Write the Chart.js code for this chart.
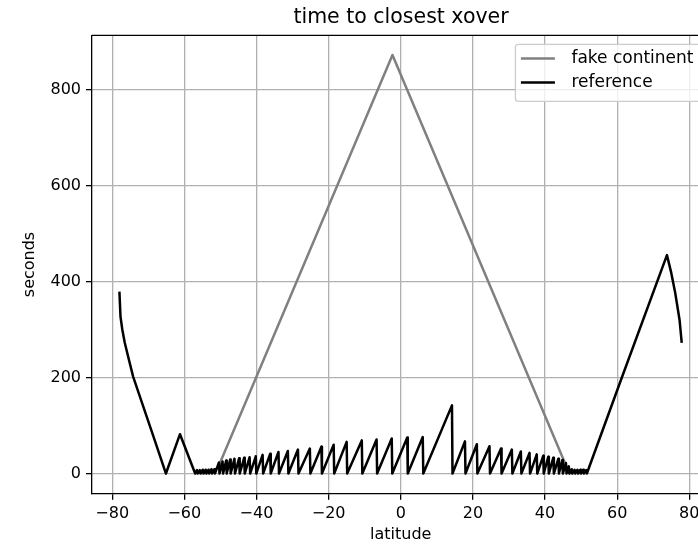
<!DOCTYPE html>
<html>
<head>
<meta charset="utf-8">
<title>time to closest xover</title>
<script src="https://cdn.jsdelivr.net/npm/chart.js@4.4.1/dist/chart.umd.min.js"></script>
<style>
  html, body { margin: 0; padding: 0; background: #fff; overflow: hidden; }
  canvas { display: block; }
</style>
</head>
<body>
<canvas id="xoverChart" width="802" height="546"></canvas>
<script>
// fake continent: straight ramp up to the peak and back down
const fakeLat = [-50.8, -2.3, 46.2];
const fakeSec = [10, 872, 10];

// reference track, vertex by vertex
const refLat = [
  -78.0, -77.7, -77.2, -76.5, -75.4, -74.2, -71.4, -68.6, -65.1,
  -61.2, -57.0,
  -56.5, -56.3, -55.7, -55.5, -54.9, -54.7, -54.1, -53.9, -53.3, -53.1, -52.5, -52.3, -51.7, -51.5,
  -50.4, -50.25, -49.4, -49.25, -48.4, -48.25, -47.3, -47.15, -46.1, -45.95,
  -44.8, -44.65, -43.4, -43.25, -41.9, -41.75, -40.2, -40.05, -38.3, -38.15,
  -36.2, -36.05, -33.9, -33.75, -31.3, -31.15, -28.5, -28.35, -25.2, -25.05,
  -22.0, -21.85, -18.6, -18.45, -15.0, -14.85, -10.8, -10.65, -6.7, -6.55,
  -2.5, -2.35, 1.8, 1.95, 6.1, 6.25, 14.2, 14.35,
  17.8, 17.95, 21.1, 21.25, 24.6, 24.75, 27.8, 27.95, 30.8, 30.95,
  33.3, 33.45, 35.7, 35.85, 37.7, 37.85, 39.5, 39.65, 40.9, 41.05,
  42.3, 42.45, 43.7, 43.85, 44.8, 44.95, 45.8, 45.95, 46.6, 46.75,
  47.4, 47.55, 48.2, 48.35, 49.0, 49.15, 49.8, 49.95, 50.6, 50.75, 51.4, 51.6,
  61.3, 73.8, 75.0, 76.1, 77.3, 77.9
];
const refSec = [
  379, 327, 300, 272, 238, 202, 140, 78, 0,
  82, 0,
  7, 0, 7, 0, 8, 0, 8, 0, 8, 0, 9, 0, 9, 0,
  23, 0, 25, 0, 27, 0, 29, 0, 31, 0,
  32, 0, 33, 0, 34, 0, 36, 0, 39, 0,
  41, 0, 45, 0, 47, 0, 50, 0, 52, 0,
  56, 0, 60, 0, 66, 0, 69, 0, 71, 0,
  73, 0, 75, 0, 76, 0, 142, 0,
  67, 0, 61, 0, 57, 0, 52, 0, 50, 0,
  46, 0, 43, 0, 40, 0, 37, 0, 35, 0,
  33, 0, 31, 0, 28, 0, 22, 0, 15, 0,
  9, 0, 8, 0, 8, 0, 8, 0, 8, 0, 7, 0,
  200, 455, 418, 376, 320, 272
];

const xTicks = [-80, -60, -40, -20, 0, 20, 40, 60, 80];
const yTicks = [0, 200, 400, 600, 800];

const FONT = '"DejaVu Sans", sans-serif';
Chart.defaults.font.family = FONT;
Chart.defaults.color = '#000';

const toPoints = (xs, ys) => xs.map((x, i) => ({ x: x, y: ys[i] }));
const minusSign = v => String(v).replace('-', '\u2212');

// top spine (left/bottom come from the scale borders)
const frame = {
  id: 'frame',
  afterDatasetsDraw(chart) {
    const { ctx, chartArea } = chart;
    ctx.save();
    ctx.strokeStyle = '#000';
    ctx.lineWidth = 1.3;
    ctx.beginPath();
    ctx.moveTo(chartArea.left, chartArea.top);
    ctx.lineTo(chartArea.right, chartArea.top);
    ctx.stroke();
    ctx.restore();
  }
};

// legend box in the upper right corner of the plot
const legendBox = {
  id: 'legendBox',
  afterDraw(chart) {
    const { ctx, chartArea } = chart;
    const items = chart.data.datasets.map(ds => ({ text: ds.label, color: ds.borderColor }));
    ctx.save();
    ctx.font = '17px ' + FONT;
    const textW = Math.max(...items.map(it => ctx.measureText(it.text).width));
    const right = chartArea.right - 9;
    const left = right - (5.5 + 34 + 16.5 + textW + 7);
    const top = chartArea.top + 9;
    const height = 57;

    ctx.beginPath();
    ctx.roundRect(left, top, right - left, height, 3);
    ctx.fillStyle = 'rgba(255,255,255,0.8)';
    ctx.fill();
    ctx.strokeStyle = '#cccccc';
    ctx.lineWidth = 1.3;
    ctx.stroke();

    items.forEach((it, i) => {
      const y = top + 14.3 + i * 24;
      ctx.beginPath();
      ctx.moveTo(left + 5.5, y);
      ctx.lineTo(left + 39.5, y);
      ctx.strokeStyle = it.color;
      ctx.lineWidth = 2.5;
      ctx.stroke();
      ctx.fillStyle = '#000';
      ctx.textAlign = 'left';
      ctx.textBaseline = 'middle';
      ctx.fillText(it.text, left + 56, y);
    });
    ctx.restore();
  }
};

new Chart(document.getElementById('xoverChart'), {
  type: 'line',
  data: {
    datasets: [
      {
        label: 'fake continent',
        data: toPoints(fakeLat, fakeSec),
        borderColor: '#808080',
        borderWidth: 2.5,
        pointRadius: 0,
        tension: 0,
        borderJoinStyle: 'round',
        order: 1
      },
      {
        label: 'reference',
        data: toPoints(refLat, refSec),
        borderColor: '#000000',
        borderWidth: 2.5,
        pointRadius: 0,
        tension: 0,
        borderJoinStyle: 'round',
        order: 0
      }
    ]
  },
  options: {
    responsive: false,
    animation: false,
    events: [],
    layout: { padding: 0 },
    plugins: {
      legend: { display: false },
      tooltip: { enabled: false },
      title: {
        display: true,
        text: 'time to closest xover',
        font: { size: 20.5, weight: 'normal', lineHeight: 1.2 },
        padding: { top: 5, bottom: 5.7 }
      }
    },
    scales: {
      x: {
        type: 'linear',
        min: -85.6,
        max: 85.6,
        afterBuildTicks: s => { s.ticks = xTicks.map(v => ({ value: v })); },
        afterFit: s => { s.height = 52.3; },
        ticks: {
          font: { size: 16 },
          padding: 5,
          maxRotation: 0,
          callback: v => minusSign(v)
        },
        grid: {
          color: '#b0b0b0',
          lineWidth: 1.3,
          tickColor: '#000',
          tickLength: 6,
          tickWidth: 1.3
        },
        border: { color: '#000', width: 1.3 },
        title: {
          display: true,
          text: 'latitude',
          font: { size: 16 },
          padding: { top: 0, bottom: 2 }
        }
      },
      y: {
        type: 'linear',
        min: -42,
        max: 913,
        afterBuildTicks: s => { s.ticks = yTicks.map(v => ({ value: v })); },
        afterFit: s => { s.width = 92; },
        ticks: {
          font: { size: 16 },
          padding: 5,
          callback: v => minusSign(v)
        },
        grid: {
          color: '#b0b0b0',
          lineWidth: 1.3,
          tickColor: '#000',
          tickLength: 6,
          tickWidth: 1.3
        },
        border: { color: '#000', width: 1.3 },
        title: {
          display: true,
          text: 'seconds',
          font: { size: 16 },
          padding: { top: 20, bottom: 0 }
        }
      },
      // empty strip on the right, past the visible window, so the title centres over the plot
      yPad: {
        type: 'linear',
        position: 'right',
        display: true,
        afterFit: s => { s.width = 92.5; },
        ticks: { display: false },
        grid: { display: false },
        border: { display: false }
      }
    }
  },
  plugins: [frame, legendBox]
});
</script>
</body>
</html>
